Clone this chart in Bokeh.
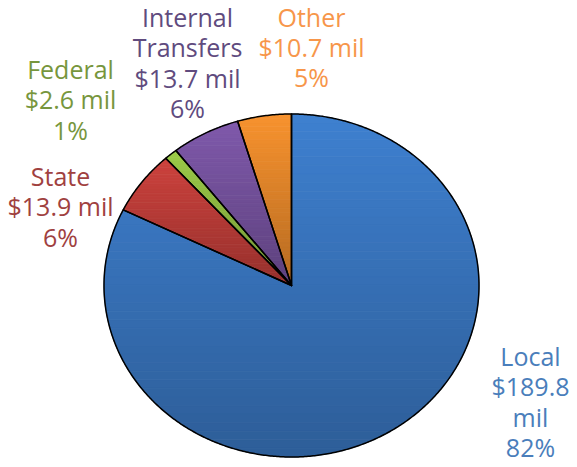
import numpy as np
from bokeh.plotting import figure
from bokeh.models import Range1d, ColumnDataSource
from bokeh.core.properties import value
from bokeh.embed import file_html
from bokeh.resources import INLINE

# ---- data ----
categories = ["Local", "State", "Federal", "Internal Transfers", "Other"]
amounts = [189.8, 13.9, 2.6, 13.7, 10.7]          # $ million
name_lines = ["Local", "State", "Federal", "Internal\nTransfers", "Other"]
amount_wrap = ["\n", " ", " ", " ", " "]           # "$189.8" wraps before "mil"

# ---- styles / layout ----
slice_colors = [(62, 128, 208), (205, 66, 61), (156, 203, 72), (127, 89, 171), (248, 146, 46)]
text_colors = ["#4A7EBB", "#A0413F", "#77963D", "#604B7E", "#F7964A"]
label_pos = [(530, 401), (60, 206), (70, 99), (187, 62), (311, 46.5)]
CX, CY, RX, RY = 291.0, 285.0, 187.5, 171.5
DARKEN = 0.27
W, H = 577, 467

p = figure(width=W, height=H, output_backend="svg", toolbar_location=None,
           x_range=Range1d(0, W), y_range=Range1d(H, 0), min_border=0,
           background_fill_color="white", border_fill_color="white")
p.axis.visible = False
p.grid.visible = False
p.outline_line_color = None


def clip_half(poly, y0, keep_above):
    """Sutherland-Hodgman clip of polygon against horizontal line y=y0."""
    out = []
    n = len(poly)
    if n == 0:
        return out
    inside = (lambda pt: pt[1] >= y0) if keep_above else (lambda pt: pt[1] <= y0)
    for i in range(n):
        a = poly[i]
        b = poly[(i + 1) % n]
        ia, ib = inside(a), inside(b)
        if ia:
            out.append(a)
        if ia != ib:
            t = (y0 - a[1]) / (b[1] - a[1])
            out.append((a[0] + t * (b[0] - a[0]), y0))
    return out


total = sum(amounts)
fracs = [a / total for a in amounts]
starts = np.cumsum([0] + fracs[:-1])

band_xs, band_ys, band_col = [], [], []
out_xs, out_ys = [], []
for frac, s, col in zip(fracs, starts, slice_colors):
    th = np.linspace(s, s + frac, max(8, int(frac * 720))) * 2 * np.pi
    xs = np.concatenate([[CX], CX + RX * np.sin(th)])
    ys = np.concatenate([[CY], CY - RY * np.cos(th)])
    out_xs.append(list(xs))
    out_ys.append(list(ys))
    poly = list(zip(xs, ys))
    ytop, ybot = ys.min(), ys.max()
    nb = 40
    edges = np.linspace(ytop, ybot, nb + 1)
    for k in range(nb):
        part = clip_half(poly, edges[k], True)
        part = clip_half(part, edges[k + 1], False)
        if len(part) < 3:
            continue
        t = (k + 0.5) / nb
        f = 1 - DARKEN * t
        c = "#%02x%02x%02x" % tuple(int(round(v * f)) for v in col)
        band_xs.append([q[0] for q in part])
        band_ys.append([q[1] for q in part])
        band_col.append(c)

p.patches(xs=band_xs, ys=band_ys, fill_color=band_col, line_color=band_col, line_width=0.8)
p.patches(xs=out_xs, ys=out_ys, fill_color=None, line_color="black", line_width=1.5,
          line_join="round")

labels = []
for nm, a, w, fr in zip(name_lines, amounts, amount_wrap, fracs):
    labels.append(f"{nm}\n${a:.1f}{w}mil\n{round(fr * 100)}%")

src = ColumnDataSource(dict(x=[q[0] for q in label_pos], y=[q[1] for q in label_pos],
                            text=labels, color=text_colors))
p.text(x="x", y="y", text="text", source=src, text_color="color",
       text_font=value("Open Sans"), text_font_size="25px", text_align="center",
       text_baseline="middle", text_line_height=0.89)

open("out.html", "w").write(file_html(p, INLINE))
